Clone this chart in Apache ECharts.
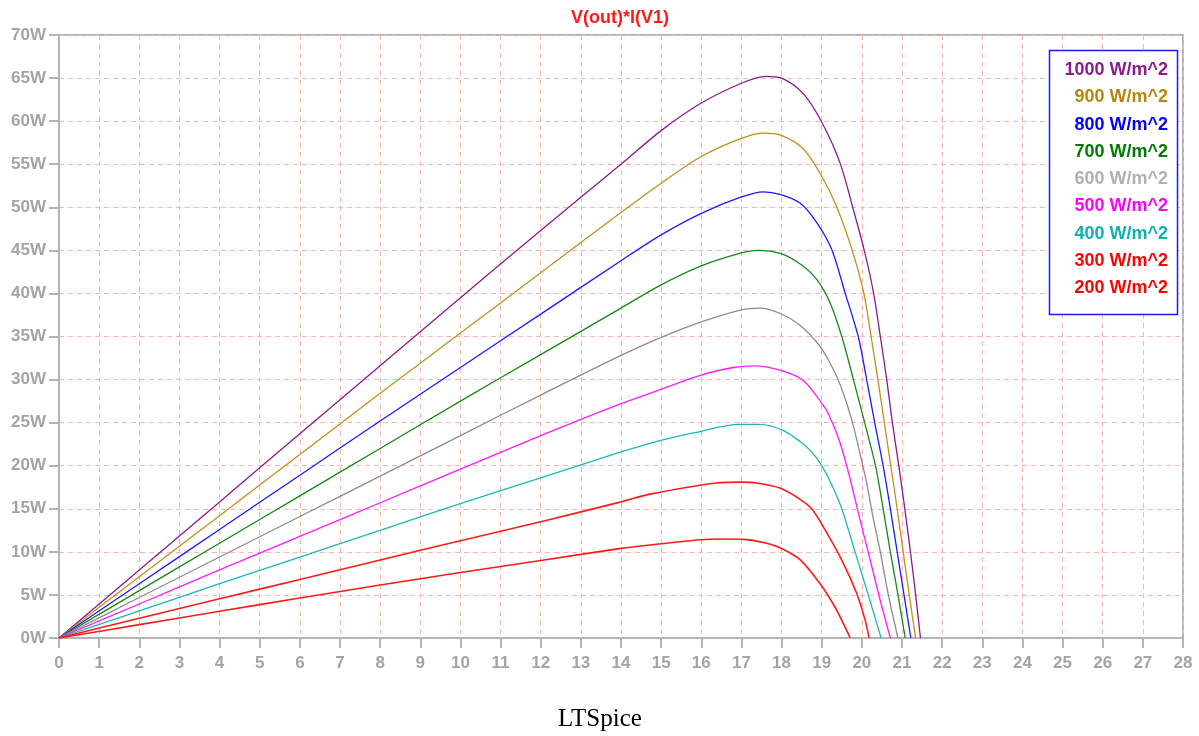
<!DOCTYPE html>
<html>
<head>
<meta charset="utf-8">
<script src="https://cdn.jsdelivr.net/npm/echarts@6/dist/echarts.min.js"></script>
<style>
html,body{margin:0;padding:0;background:#fff;}
#c{width:1199px;height:736px;}
</style>
</head>
<body>
<div id="c"></div>
<script>
// Series names (legend labels), colours
const seriesNames = ['1000 W/m^2','900 W/m^2','800 W/m^2','700 W/m^2','600 W/m^2','500 W/m^2','400 W/m^2','300 W/m^2','200 W/m^2'];
const lineColors  = ['#8b1a8b','#c0901a','#1a1aff','#138a13','#8c8c8c','#ff1aff','#1ab8b8','#ff1a1a','#ff1a1a'];
const textColors  = ['#8b1a8b','#b8860b','#0000ff','#007a00','#b0b0b0','#ff00ff','#10b0b0','#ff0000','#ff0000'];

// Power curves: [voltage (V), power (W)]
const p1000 = [[0,0],[2,7.9],[4,15.8],[6,23.7],[8,31.6],[10,39.5],[12,47.3],[14,55.0],[15,58.9],[16,62.1],[17,64.4],[17.6,65.2],[18,65.0],[18.54,63.2],[19.0,59.9],[19.46,55.1],[19.79,49.7],[20.06,45.0],[20.29,40.1],[20.46,35.0],[20.62,30.0],[20.76,25.0],[20.92,20.0],[21.07,15.0],[21.21,10.0],[21.34,5.0],[21.46,0]];
const p900  = [[0,0],[2,7.1],[4,14.2],[6,21.3],[8,28.4],[10,35.4],[12,42.4],[14,49.4],[15,52.8],[16,55.9],[17,58.0],[17.55,58.6],[17.96,58.4],[18.54,56.8],[19.0,53.6],[19.37,50.1],[19.76,45.0],[20.05,40.0],[20.23,35.0],[20.4,30.0],[20.56,25.0],[20.72,20.0],[20.88,15.0],[21.03,10.0],[21.18,5.0],[21.34,0]];
const p800  = [[0,0],[2,6.3],[4,12.6],[6,18.9],[8,25.2],[10,31.4],[12,37.6],[14,43.8],[15,46.8],[16,49.3],[17,51.2],[17.55,51.8],[17.96,51.5],[18.46,50.5],[18.88,48.2],[19.25,45.1],[19.58,40.1],[19.91,35.0],[20.12,30.0],[20.32,25.0],[20.53,20.0],[20.71,15.0],[20.88,10.0],[21.05,5.0],[21.22,0]];
const p700  = [[0,0],[2,5.5],[4,11.0],[6,16.5],[8,22.0],[10,27.5],[12,32.9],[14,38.3],[15,41.0],[16,43.2],[17,44.7],[17.4,45.0],[18,44.6],[18.5,43.3],[18.88,41.6],[19.21,38.9],[19.5,35.0],[19.79,30.0],[20.07,25.0],[20.34,20.0],[20.53,15.0],[20.71,10.0],[20.9,5.0],[21.08,0]];
const p600  = [[0,0],[2,4.7],[4,9.4],[6,14.1],[8,18.8],[10,23.5],[12,28.2],[14,32.8],[15,34.9],[16,36.7],[17,38.1],[17.45,38.3],[17.96,37.7],[18.46,36.3],[18.95,33.9],[19.21,31.9],[19.46,29.4],[19.75,25.3],[19.95,21.5],[20.12,18.0],[20.28,14.0],[20.46,10.0],[20.66,5.0],[20.9,0]];
const p500  = [[0,0],[2,3.95],[4,7.9],[6,11.8],[8,15.7],[10,19.6],[12,23.5],[14,27.2],[14.72,28.4],[15.97,30.5],[16.8,31.4],[17.3,31.6],[17.96,31.1],[18.54,29.9],[19.04,27.0],[19.21,25.6],[19.46,22.6],[19.7,18.6],[19.95,13.8],[20.2,9.2],[20.45,4.5],[20.71,0]];
const p400  = [[0,0],[2,3.15],[4,6.3],[6,9.4],[8,12.5],[10,15.6],[12,18.6],[14,21.6],[14.72,22.6],[15.8,23.8],[16.97,24.8],[17.46,24.8],[18.04,24.1],[18.46,22.8],[18.75,21.6],[19.0,20.0],[19.25,17.8],[19.5,15.0],[19.83,10.0],[20.16,5.0],[20.48,0]];
const p300  = [[0,0],[2,2.3],[4,4.55],[6,6.8],[8,9.05],[10,11.3],[12,13.5],[14,15.8],[14.72,16.7],[16.38,18.0],[17.0,18.1],[17.38,18.0],[17.96,17.4],[18.46,16.1],[18.75,15.0],[19.04,12.9],[19.5,9.05],[19.87,5.2],[20.08,2.1],[20.18,0]];
const p200  = [[0,0],[2,1.55],[4,3.1],[6,4.65],[8,6.15],[10,7.6],[12,9.0],[14,10.4],[14.72,10.8],[15.97,11.4],[16.5,11.5],[17.05,11.45],[17.63,11.0],[18.0,10.4],[18.46,9.1],[18.96,6.3],[19.33,3.6],[19.58,1.3],[19.71,0]];
const seriesData = [p1000,p900,p800,p700,p600,p500,p400,p300,p200];

// Axis ticks
const xMin = 0, xMax = 28, xStep = 1;
const yMin = 0, yMax = 70, yStep = 5;
const titleText = 'V(out)*I(V1)';
const captionText = 'LTSpice';

const chart = echarts.init(document.getElementById('c'), null, {renderer:'canvas'});
const gray = '#b4b4b4';
const labelGray = '#a4a4a4';
const fontFam = '"Liberation Sans", Arial, sans-serif';

const series = seriesData.map((d,i)=>({
  name: seriesNames[i],
  type: 'line',
  data: d,
  showSymbol: false,
  smooth: 0.3,
  lineStyle: {color: lineColors[i], width: i>=7 ? 1.6 : 1.3},
  itemStyle: {color: lineColors[i]},
  z: 3 + i
}));

const legendGraphics = [{
  type: 'rect',
  shape: {x: 1049.5, y: 50.5, width: 128, height: 264},
  style: {fill: '#fff', stroke: '#1a1aff', lineWidth: 1.5},
  z: 50
}];
seriesNames.forEach((n,i)=>{
  legendGraphics.push({
    type: 'text',
    x: 1168, y: 70 + i*27.3,
    style: {text: n, fill: textColors[i], font: 'bold 18px ' + fontFam, textAlign: 'right', textVerticalAlign: 'middle'},
    z: 51
  });
});

chart.setOption({
  animation: false,
  backgroundColor: '#fff',
  grid: {left: 59, right: 16, top: 35, bottom: 98, show: true, borderColor: gray, borderWidth: 2, backgroundColor: 'transparent'},
  xAxis: {
    type: 'value', min: xMin, max: xMax, interval: xStep,
    axisLine: {show: true, lineStyle: {color: gray, width: 2}},
    axisTick: {show: true, length: 10, lineStyle: {color: gray, width: 2}},
    axisLabel: {color: labelGray, fontSize: 17, fontWeight: 'bold', fontFamily: fontFam, margin: 17},
    splitLine: {show: true, lineStyle: {color: '#ffb4b4', type: [5,4], width: 1}}
  },
  yAxis: {
    type: 'value', min: yMin, max: yMax, interval: yStep,
    axisLine: {show: true, lineStyle: {color: gray, width: 2}},
    axisTick: {show: true, length: 10, lineStyle: {color: gray, width: 2}},
    axisLabel: {color: labelGray, fontSize: 17, fontWeight: 'bold', fontFamily: fontFam, margin: 13, formatter: '{value}W'},
    splitLine: {show: true, lineStyle: {color: '#ffb4b4', type: [5,4], width: 1}}
  },
  series: series,
  graphic: [
    {type: 'text', x: 620, y: 18, style: {text: titleText, fill: '#ff1a1a', font: 'bold 18px ' + fontFam, textAlign: 'center', textVerticalAlign: 'middle'}, z: 60},
    {type: 'text', x: 600, y: 719, style: {text: captionText, fill: '#000', font: '25px "Liberation Serif", "Times New Roman", serif', textAlign: 'center', textVerticalAlign: 'middle'}, z: 60}
  ].concat(legendGraphics)
});
</script>
</body>
</html>
